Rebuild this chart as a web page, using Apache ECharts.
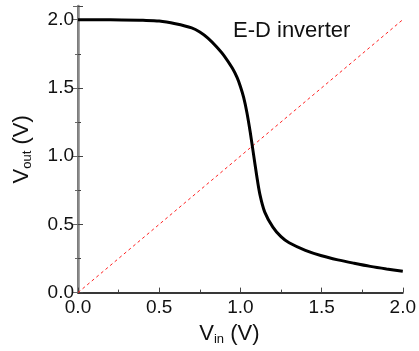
<!DOCTYPE html>
<html>
<head>
<meta charset="utf-8">
<script src="https://cdn.jsdelivr.net/npm/echarts@6/dist/echarts.min.js"></script>
<style>
  html, body { margin: 0; padding: 0; background: #fff; }
  #chart { width: 419px; height: 351px; }
</style>
</head>
<body>
<div id="chart"></div>
<script>
// transfer curve
const vin = [0, 0.2, 0.4, 0.5, 0.6, 0.7, 0.75, 0.8, 0.85, 0.9, 0.95, 0.98, 1.0, 1.02, 1.04, 1.06, 1.08, 1.1, 1.12, 1.15, 1.2, 1.25, 1.3, 1.4, 1.5, 1.6, 1.7, 1.8, 1.9, 2.0];
const vout = [2.0, 2.0, 1.995, 1.99, 1.97, 1.94, 1.91, 1.865, 1.805, 1.735, 1.645, 1.575, 1.51, 1.43, 1.32, 1.18, 1.02, 0.86, 0.72, 0.59, 0.48, 0.41, 0.365, 0.31, 0.27, 0.24, 0.215, 0.192, 0.173, 0.156];
// reference line Vout = Vin
const refX = [0, 2];
const refY = [0, 2];

const font = "Liberation Sans";

const nameRich = {
    a: { fontSize: 22, fontFamily: font, color: "#111" },
    s: { fontSize: 13, fontFamily: font, color: "#111", padding: [12, 0, 0, 0] },
};

const chart = echarts.init(document.getElementById("chart"));

const option = {
    backgroundColor: "#fff",
    animation: false,
    grid: { left: 78, right: 13, top: 6, bottom: 58 },
    graphic: [
        {
            type: "text",
            left: 233,
            top: 20,
            style: { text: "E-D inverter", font: "22px " + font, fill: "#111" },
        },
    ],
    xAxis: [
        {
            type: "value",
            min: 0,
            max: 2,
            interval: 0.5,
            name: "{a|V}{s|in}{a| (V)}",
            nameLocation: "middle",
            nameGap: 27,
            nameTextStyle: { rich: nameRich, padding: [0, 22, 0, 0] },
            axisLine: { lineStyle: { color: "#555", width: 1.5 } },
            axisTick: { inside: true, length: 5, lineStyle: { color: "#444" } },
            minorTick: { show: true, splitNumber: 2, length: 3, lineStyle: { color: "#444" } },
            splitLine: { show: false },
            axisLabel: {
                fontSize: 19,
                fontFamily: font,
                color: "#111",
                margin: 6,
                formatter: (v) => v.toFixed(1),
            },
        },
        {
            type: "value",
            position: "top",
            min: 0,
            max: 2,
            axisLine: { lineStyle: { color: "#222", width: 1.5 } },
            axisTick: { show: false },
            axisLabel: { show: false },
            splitLine: { show: false },
        },
    ],
    yAxis: [
        {
            type: "value",
            min: 0,
            max: 2.1,
            interval: 0.5,
            name: "{a|V}{s|out}{a| (V)}",
            nameLocation: "middle",
            nameRotate: 90,
            nameGap: 44,
            nameTextStyle: { rich: nameRich },
            axisLine: { lineStyle: { color: "#222", width: 1.5 } },
            axisTick: { inside: true, length: 5, lineStyle: { color: "#444" } },
            minorTick: { show: true, splitNumber: 2, length: 3, lineStyle: { color: "#444" } },
            splitLine: { show: false },
            axisLabel: {
                fontSize: 19,
                fontFamily: font,
                color: "#111",
                margin: 4,
                showMaxLabel: false,
                formatter: (v) => v.toFixed(1),
            },
        },
        {
            type: "value",
            position: "right",
            min: 0,
            max: 2.1,
            interval: 0.5,
            axisLine: { show: true, lineStyle: { color: "#888", width: 2.5 } },
            axisTick: { inside: true, length: 5, lineStyle: { color: "#666" } },
            minorTick: { show: true, splitNumber: 2, length: 3, lineStyle: { color: "#666" } },
            axisLabel: { show: false },
            splitLine: { show: false },
        },
    ],
    series: [
        {
            name: "y=x",
            type: "line",
            symbol: "none",
            lineStyle: { color: "#ff2020", width: 1, type: [3, 3] },
            data: refX.map((x, i) => [x, refY[i]]),
        },
        {
            name: "VTC",
            type: "line",
            symbol: "none",
            smooth: 0.3,
            lineStyle: { color: "#000", width: 3 },
            data: vin.map((x, i) => [x, vout[i]]),
        },
    ],
};

chart.setOption(option);
</script>
</body>
</html>
